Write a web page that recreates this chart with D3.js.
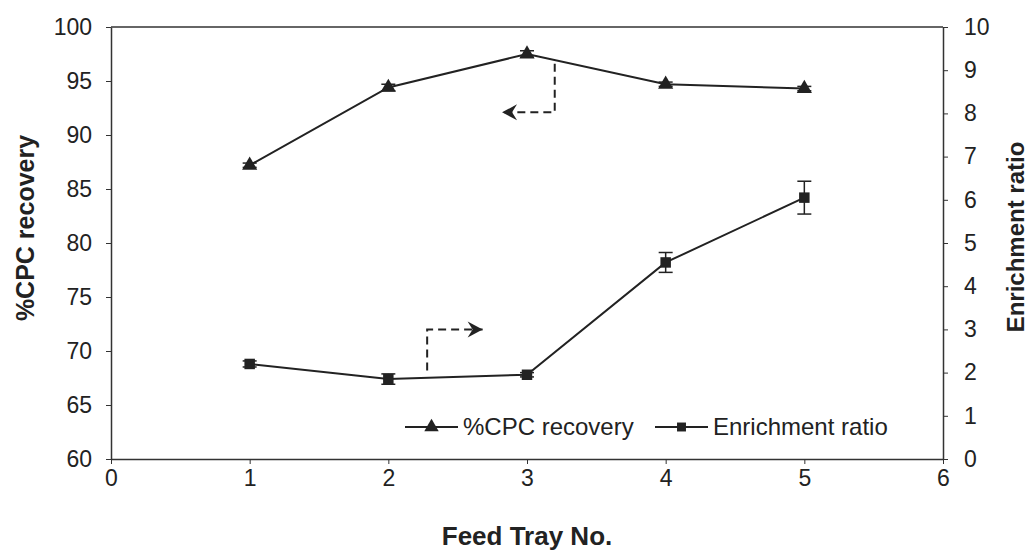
<!DOCTYPE html>
<html>
<head>
<meta charset="utf-8">
<script src="https://cdn.jsdelivr.net/npm/d3@7/dist/d3.min.js"></script>
<style>
  body { margin: 0; background: #fff; }
  svg { display: block; font-family: "Liberation Sans", Arial, sans-serif; }
</style>
</head>
<body>
<div id="chart"></div>
<script>
const trays = [1, 2, 3, 4, 5];
const recovery = [87.2, 94.4, 97.5, 94.7, 94.3];
const recoveryErr = [0.2, 0.3, 0.3, 0.2, 0.2];
const enrichment = [2.2, 1.85, 1.95, 4.55, 6.05];
const enrichmentErr = [0.07, 0.12, 0.05, 0.23, 0.38];
const xTicks = [0, 1, 2, 3, 4, 5, 6];
const leftTicks = [60, 65, 70, 75, 80, 85, 90, 95, 100];
const rightTicks = [0, 1, 2, 3, 4, 5, 6, 7, 8, 9, 10];
// dashed pointer arrows, in data units (x, left-axis value)
const arrowToLeft = [[3.2, 96.6], [3.2, 92.1], [2.82, 92.1]];
const arrowToRight = [[2.28, 68.2], [2.28, 72.0], [2.68, 72.0]];

const width = 1031, height = 553;
const margin = { top: 27, right: 88, bottom: 94, left: 111 };
const ink = '#222';

const svg = d3.select('#chart').append('svg')
    .attr('width', width)
    .attr('height', height);

const x = d3.scaleLinear().domain([0, 6]).range([margin.left, width - margin.right]);
const yLeft = d3.scaleLinear().domain([60, 100]).range([height - margin.bottom, margin.top]);
const yRight = d3.scaleLinear().domain([0, 10]).range([height - margin.bottom, margin.top]);

// frame top line
svg.append('line')
    .attr('x1', x(0)).attr('x2', x(6))
    .attr('y1', yLeft(100)).attr('y2', yLeft(100))
    .attr('stroke', '#333').attr('stroke-width', 1.5);

const styleAxis = g => {
    g.select('.domain').attr('stroke', '#333').attr('stroke-width', 1.5);
    g.selectAll('.tick line').attr('stroke', '#333').attr('stroke-width', 1);
    g.selectAll('.tick text').attr('fill', ink).attr('font-size', 23);
};

svg.append('g')
    .attr('transform', 'translate(0,' + (height - margin.bottom) + ')')
    .call(d3.axisBottom(x).tickValues(xTicks).tickFormat(d3.format('d'))
        .tickSize(5).tickSizeOuter(0).tickPadding(6))
    .call(styleAxis);

svg.append('g')
    .attr('transform', 'translate(' + margin.left + ',0)')
    .call(d3.axisLeft(yLeft).tickValues(leftTicks).tickSize(5).tickSizeOuter(0).tickPadding(14))
    .call(styleAxis);

svg.append('g')
    .attr('transform', 'translate(' + (width - margin.right) + ',0)')
    .call(d3.axisRight(yRight).tickValues(rightTicks).tickSize(5).tickSizeOuter(0).tickPadding(16))
    .call(styleAxis);

// axis titles
svg.append('text')
    .attr('transform', 'translate(34,' + 228 + ') rotate(-90)')
    .attr('text-anchor', 'middle')
    .attr('font-size', 25).attr('font-weight', 'bold').attr('fill', ink)
    .text('%CPC recovery');

svg.append('text')
    .attr('transform', 'translate(1024,' + 237 + ') rotate(-90)')
    .attr('text-anchor', 'middle')
    .attr('font-size', 24).attr('font-weight', 'bold').attr('fill', ink)
    .text('Enrichment ratio');

svg.append('text')
    .attr('x', x(3)).attr('y', 545)
    .attr('text-anchor', 'middle')
    .attr('font-size', 26).attr('font-weight', 'bold').attr('fill', ink)
    .text('Feed Tray No.');

const drawSeries = (values, errs, y, symbol, size) => {
    const pts = trays.map((t, i) => ({ t, v: values[i], e: errs[i] }));
    svg.append('path')
        .datum(pts)
        .attr('fill', 'none')
        .attr('stroke', ink)
        .attr('stroke-width', 2)
        .attr('d', d3.line().x(d => x(d.t)).y(d => y(d.v)));
    const eb = svg.append('g').selectAll('g').data(pts).join('g')
        .attr('stroke', ink).attr('stroke-width', 1.5);
    eb.append('line')
        .attr('x1', d => x(d.t)).attr('x2', d => x(d.t))
        .attr('y1', d => y(d.v - d.e)).attr('y2', d => y(d.v + d.e));
    eb.append('line')
        .attr('x1', d => x(d.t) - 7).attr('x2', d => x(d.t) + 7)
        .attr('y1', d => y(d.v - d.e)).attr('y2', d => y(d.v - d.e));
    eb.append('line')
        .attr('x1', d => x(d.t) - 7).attr('x2', d => x(d.t) + 7)
        .attr('y1', d => y(d.v + d.e)).attr('y2', d => y(d.v + d.e));
    svg.append('g').selectAll('path').data(pts).join('path')
        .attr('transform', d => 'translate(' + x(d.t) + ',' + y(d.v) + ')')
        .attr('d', d3.symbol().type(symbol).size(size))
        .attr('fill', ink);
};

drawSeries(recovery, recoveryErr, yLeft, d3.symbolTriangle, 100);
drawSeries(enrichment, enrichmentErr, yRight, d3.symbolSquare, 110);

// dashed pointer arrows
const drawArrow = (pts, dir) => {
    svg.append('path')
        .attr('d', d3.line().x(d => x(d[0])).y(d => yLeft(d[1]))(pts))
        .attr('fill', 'none')
        .attr('stroke', ink)
        .attr('stroke-width', 2)
        .attr('stroke-dasharray', '8,5');
    const tip = pts[pts.length - 1];
    const tx = x(tip[0]), ty = yLeft(tip[1]);
    svg.append('path')
        .attr('d', 'M' + tx + ',' + ty + 'l' + (-dir * 15) + ',-8l' + (dir * 5) + ',8l' + (-dir * 5) + ',8z')
        .attr('fill', ink);
};
drawArrow(arrowToLeft, -1);
drawArrow(arrowToRight, 1);

// legend
const legendItems = [
    { label: '%CPC recovery', symbol: d3.symbolTriangle, size: 90, x0: 405 },
    { label: 'Enrichment ratio', symbol: d3.symbolSquare, size: 80, x0: 655 }
];
const ly = 427;
const lg = svg.append('g').selectAll('g').data(legendItems).join('g')
    .attr('transform', d => 'translate(' + d.x0 + ',' + ly + ')');
lg.append('line')
    .attr('x1', 0).attr('x2', 53)
    .attr('stroke', ink).attr('stroke-width', 2);
lg.append('path')
    .attr('transform', 'translate(26.5,0)')
    .attr('d', d => d3.symbol().type(d.symbol).size(d.size)())
    .attr('fill', ink);
lg.append('text')
    .attr('x', 58).attr('y', 8)
    .attr('font-size', 24).attr('fill', ink)
    .text(d => d.label);
</script>
</body>
</html>
